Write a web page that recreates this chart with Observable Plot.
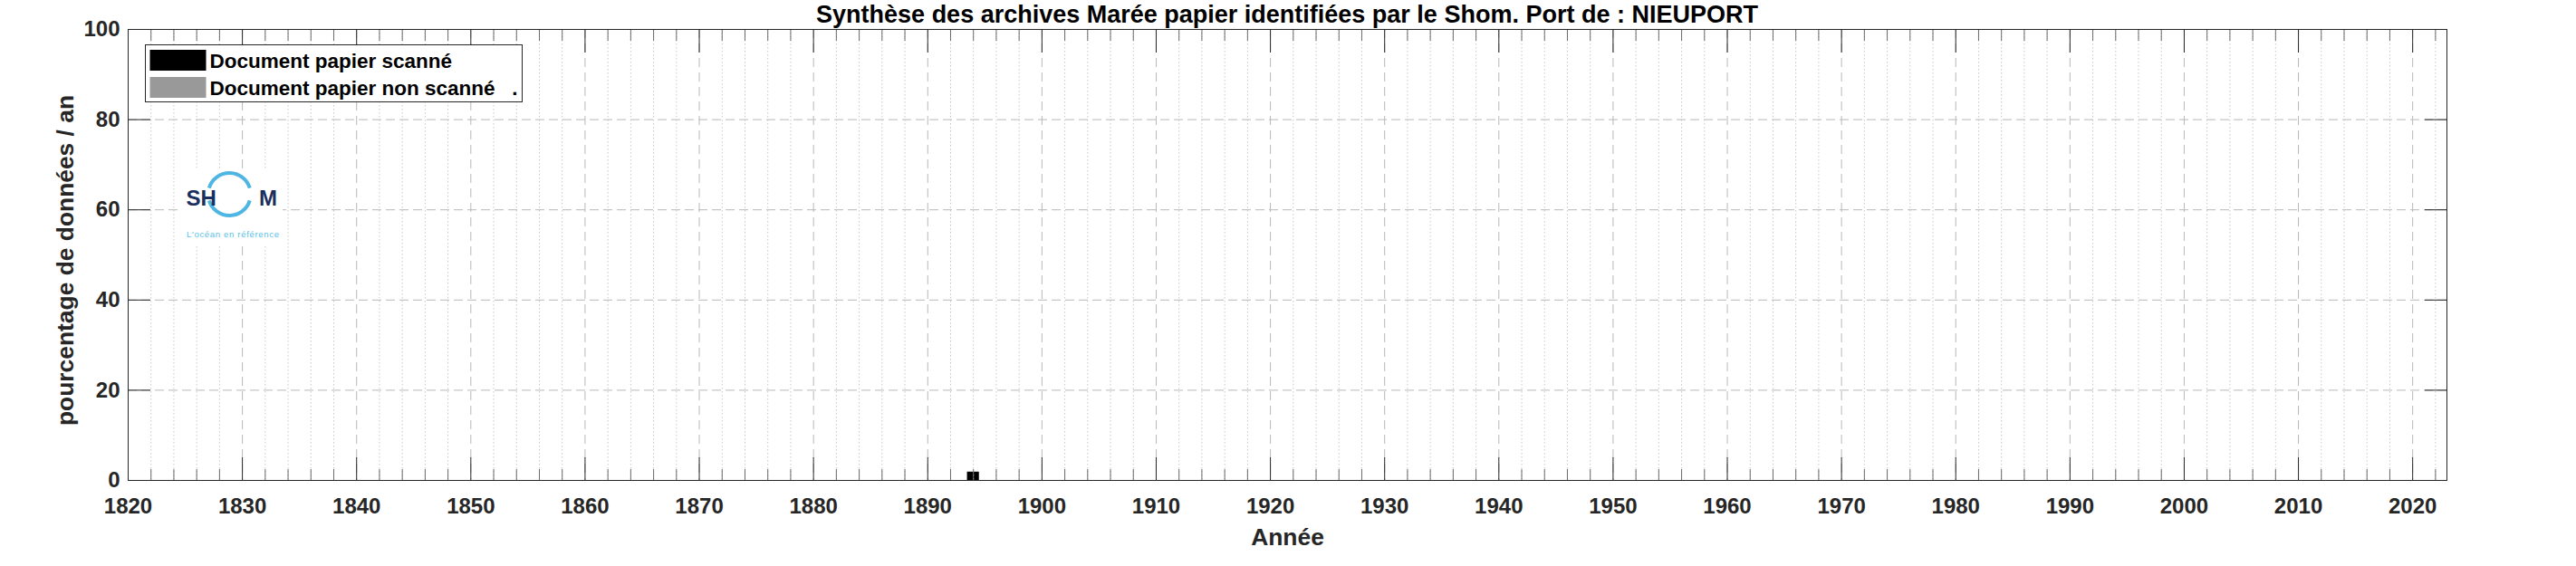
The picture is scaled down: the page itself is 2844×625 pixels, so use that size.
<!DOCTYPE html>
<html><head><meta charset="utf-8">
<script src="https://cdn.jsdelivr.net/npm/d3@7"></script>
<script src="https://cdn.jsdelivr.net/npm/@observablehq/plot@0.6"></script>
<style>
body{margin:0;background:#fff;}
#wrap{position:relative;width:2844px;height:625px;overflow:hidden;}
#overlay{position:absolute;left:0;top:0;pointer-events:none;}
#overlay text{font-family:"Liberation Sans",Arial,Helvetica,sans-serif;}
</style></head><body>
<div id="wrap"><div id="chart"></div></div>
<script>
// ---- data ----
const years = [1894];
const scanned = [1.8];
const unscanned = [0];
const majorTicks = [1820,1830,1840,1850,1860,1870,1880,1890,1900,1910,1920,1930,1940,1950,1960,1970,1980,1990,2000,2010,2020];
const minorTicks = d3.range(1822, 2023, 2).filter(y => y % 10 !== 0);
const yTicks = [0,20,40,60,80,100];
const yGrid = [20,40,60,80];
const titleText = "Synthèse des archives Marée papier identifiées par le Shom. Port de : NIEUPORT";
const xLabel = "Année";
const yLabel = "pourcentage de données / an";
const legendLabels = ["Document papier scanné", "Document papier non scanné   ."];
const logoWord = ["SH", "M"];
const logoTagline = "L'océan en référence";

// ---- styles ----
const INK = "#262626";
const fillScanned = "#000000", fillUnscanned = "#999999";
const legendFills = [fillScanned, fillUnscanned];
const FONT = '"Liberation Sans", Arial, Helvetica, sans-serif';

const rows = years.map((year, i) => ({year, scanned: scanned[i], unscanned: unscanned[i]}));

const plot = Plot.plot({
  width: 2844, height: 625,
  marginLeft: 141, marginRight: 143, marginTop: 32, marginBottom: 95,
  style: {fontFamily: FONT, color: INK, background: "#fff", overflow: "visible"},
  x: {type: "linear", domain: [1820, 2023]},
  y: {domain: [0, 100]},
  marks: [
    Plot.rectY(rows, {x1: d => d.year - 0.5, x2: d => d.year + 0.5, y1: 0, y2: "scanned", fill: fillScanned, stroke: fillScanned, strokeWidth: 0.5}),
    Plot.rectY(rows.filter(d => d.unscanned > 0), {x1: d => d.year - 0.5, x2: d => d.year + 0.5, y1: "scanned", y2: d => d.scanned + d.unscanned, fill: fillUnscanned}),
    Plot.gridX(minorTicks, {stroke: "#c8c8c8", strokeOpacity: 1, strokeDasharray: "1.5,2.5"}),
    Plot.gridX(majorTicks, {stroke: "#b8b8b8", strokeOpacity: 1, strokeDasharray: "10,6"}),
    Plot.gridY(yGrid, {stroke: "#b8b8b8", strokeOpacity: 1, strokeDasharray: "10,5"}),
    Plot.frame({stroke: INK}),
    // inward ticks
    Plot.axisX({ticks: majorTicks, anchor: "bottom", tickSize: -25, fill: "none", stroke: INK, label: null}),
    Plot.axisX({ticks: minorTicks, anchor: "bottom", tickSize: -12, fill: "none", stroke: "#6a6a6a", label: null}),
    Plot.axisX({ticks: majorTicks, anchor: "top", tickSize: -25, fill: "none", stroke: INK, label: null}),
    Plot.axisX({ticks: minorTicks, anchor: "top", tickSize: -12, fill: "none", stroke: "#6a6a6a", label: null}),
    Plot.axisY({ticks: yTicks, anchor: "left", tickSize: -25, fill: "none", stroke: INK, label: null}),
    Plot.axisY({ticks: yTicks, anchor: "right", tickSize: -25, fill: "none", stroke: INK, label: null}),
    // tick labels
    Plot.axisX({ticks: majorTicks, anchor: "bottom", tickSize: 0, tickPadding: 19, tickFormat: d => String(d), fontSize: 24, fontWeight: "bold", fill: INK, label: null}),
    Plot.axisY({ticks: yTicks, anchor: "left", tickSize: 0, tickPadding: 9, tickFormat: d => String(d), fontSize: 24, fontWeight: "bold", fill: INK, label: null}),
    // axis titles
    Plot.text([yLabel], {text: d => d, frameAnchor: "left", textAnchor: "middle", lineAnchor: "middle", rotate: -90, dx: -69, dy: 6, fontSize: 26.4, fontWeight: "bold", fill: INK}),
    Plot.text([xLabel], {text: d => d, frameAnchor: "bottom", textAnchor: "middle", lineAnchor: "top", dy: 53, fontSize: 26.4, fontWeight: "bold", fill: INK})
  ]
});
document.getElementById("wrap").prepend(plot);

// ---- overlay: title, legend, logo ----
const ov = d3.select("#wrap").append("svg").attr("id", "overlay").attr("width", 2844).attr("height", 625);
ov.append("text").attr("x", 1421).attr("y", 25).attr("text-anchor", "middle")
  .attr("font-size", 27).attr("font-weight", "bold").attr("fill", "#000").text(titleText);

const lg = ov.append("g");
lg.append("rect").attr("x", 160.5).attr("y", 49.5).attr("width", 416).attr("height", 63).attr("fill", "#fff").attr("stroke", INK).attr("stroke-width", 1);
legendLabels.forEach((lab, i) => {
  lg.append("rect").attr("x", 165.5).attr("y", 55 + i * 30).attr("width", 62).attr("height", 23).attr("fill", legendFills[i]);
  lg.append("text").attr("x", 231.5).attr("y", 74.5 + i * 30).attr("font-size", 22.5).attr("font-weight", "bold")
    .attr("fill", "#000").attr("xml:space", "preserve").style("white-space", "pre").text(lab);
});

const logo = ov.append("g");
logo.append("rect").attr("x", 200).attr("y", 186).attr("width", 112).attr("height", 84).attr("fill", "#fff");
const cx = 253.3, cy = 214.5, r = 23.5, rad = a => a * Math.PI / 180;
const pt = a => `${cx + r * Math.cos(rad(a))},${cy + r * Math.sin(rad(a))}`;
logo.append("path").attr("d", `M${pt(197)}A${r},${r} 0 0 1 ${pt(343)}M${pt(17)}A${r},${r} 0 0 1 ${pt(163)}`)
  .attr("fill", "none").attr("stroke", "#4fb6e3").attr("stroke-width", 4);
logo.append("text").attr("x", 205.5).attr("y", 226.5).attr("font-size", 24).attr("font-weight", "bold").attr("fill", "#1b2f5e").text(logoWord[0]);
logo.append("text").attr("x", 286).attr("y", 226.5).attr("font-size", 24).attr("font-weight", "bold").attr("fill", "#1b2f5e").text(logoWord[1]);
logo.append("text").attr("x", 206).attr("y", 262).attr("font-size", 9.6).attr("textLength", 102).attr("fill", "#5bbfe9").text(logoTagline);
</script>
</body></html>
